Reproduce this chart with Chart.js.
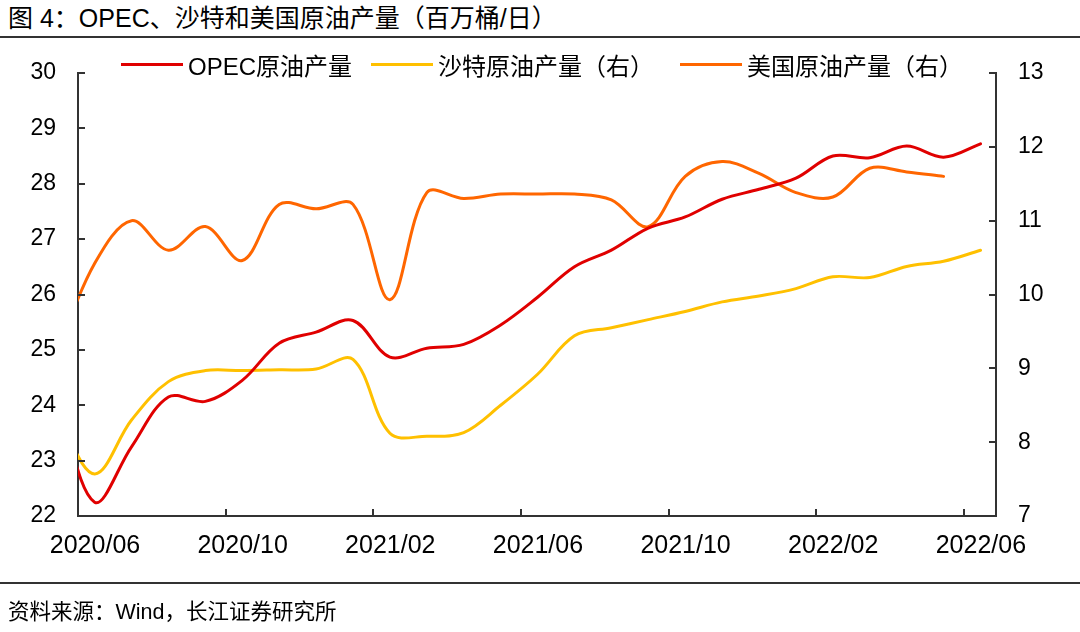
<!DOCTYPE html>
<html><head><meta charset="utf-8">
<script src="https://cdn.jsdelivr.net/npm/chart.js@4.4.1/dist/chart.umd.min.js"></script>
<style>
body{margin:0;background:#fff;}
#wrap{position:relative;width:1080px;height:632px;overflow:hidden;background:#fff;font-family:"Liberation Sans",Arial,"Noto Sans CJK SC",sans-serif;color:#000;}
#title{position:absolute;left:8px;top:3px;font-size:25px;line-height:30px;white-space:nowrap;}
.rule{position:absolute;left:0;width:1080px;height:2px;background:#333;}
#c{position:absolute;left:0;top:0;}
.lg{position:absolute;top:49px;height:30px;display:flex;align-items:center;font-size:24px;white-space:nowrap;}
.lg .s{display:inline-block;width:62px;height:3px;margin-right:5px;}
#source{position:absolute;left:8px;top:597px;font-size:21.5px;line-height:30px;white-space:nowrap;}
</style></head>
<body><div id="wrap">
<div id="title">图 4：OPEC、沙特和美国原油产量（百万桶/日）</div>
<div class="rule" style="top:36px"></div>
<canvas id="c" width="1080" height="632"></canvas>
<div class="rule" style="top:582px"></div>
<div id="source">资料来源：Wind，长江证券研究所</div>
</div>
<script>
// Monthly observations (2020/05 is partly hidden left of the axis start)
const months = ['2020/05','2020/06','2020/07','2020/08','2020/09','2020/10','2020/11','2020/12',
  '2021/01','2021/02','2021/03','2021/04','2021/05','2021/06','2021/07','2021/08','2021/09','2021/10','2021/11','2021/12',
  '2022/01','2022/02','2022/03','2022/04','2022/05','2022/06'];
const opecOutput  = [24.1,22.25,23.25,24.15,24.07,24.45,25.12,25.32,25.53,24.87,25.03,25.1,25.45,25.95,26.5,26.8,27.2,27.4,27.72,27.9,28.1,28.5,28.47,28.68,28.48,28.72];
const saudiOutput = [8.35,7.57,8.3,8.82,8.97,8.97,8.98,8.99,9.12,8.12,8.08,8.13,8.5,8.92,9.44,9.55,9.66,9.77,9.9,9.98,10.08,10.24,10.23,10.38,10.45,10.6];
const usOutput    = [9.25,10.42,11.0,10.6,10.92,10.46,11.22,11.16,11.22,9.93,11.38,11.3,11.36,11.36,11.36,11.28,10.92,11.6,11.8,11.64,11.38,11.32,11.71,11.66,11.6,null];
const tickLabels  = ['2020/06','2020/10','2021/02','2021/06','2021/10','2022/02','2022/06'];
const seriesNames = ['OPEC原油产量','沙特原油产量（右）','美国原油产量（右）'];
const seriesColors = ['#E00000','#FFC000','#FF6600'];

// observation date within month (fraction of month)
const OBS_DAY = 0.45;
function monthNum(s){const [y,m]=s.split('/').map(Number);return (y-2020)*12+(m-6);}
function pts(arr){return arr.map((v,i)=>({x:monthNum(months[i])+OBS_DAY,y:v}));}
const tickValues = tickLabels.map(monthNum);

const AXIS = '#333';
const inwardTicks = {
  id:'inwardTicks',
  afterDatasetsDraw(chart){
    const {ctx, chartArea:a, scales} = chart;
    const L = 7;
    ctx.save(); ctx.strokeStyle = AXIS; ctx.lineWidth = 2;
    const seg=(x1,y1,x2,y2)=>{ctx.beginPath();ctx.moveTo(x1,y1);ctx.lineTo(x2,y2);ctx.stroke();};
    scales.x.ticks.forEach(t=>{const p=Math.round(scales.x.getPixelForValue(t.value));seg(p,a.bottom,p,a.bottom-L);});
    scales.y.ticks.forEach(t=>{const p=Math.round(scales.y.getPixelForValue(t.value));seg(a.left,p,a.left+L,p);});
    scales.y1.ticks.forEach(t=>{const p=Math.round(scales.y1.getPixelForValue(t.value));seg(a.right,p,a.right-L,p);});
    ctx.restore();
  }
};

const tickFont = {family:'"Liberation Sans", Arial, sans-serif', size:23};
const xTickFont = {family:'"Liberation Sans", Arial, sans-serif', size:25};
const chart = new Chart(document.getElementById('c'), {
  type:'line',
  data:{datasets:[
    {label:seriesNames[0], data:pts(opecOutput), borderColor:seriesColors[0], backgroundColor:seriesColors[0], yAxisID:'y', clip:0},
    {label:seriesNames[1], data:pts(saudiOutput), borderColor:seriesColors[1], backgroundColor:seriesColors[1], yAxisID:'y1', clip:0},
    {label:seriesNames[2], data:pts(usOutput), borderColor:seriesColors[2], backgroundColor:seriesColors[2], yAxisID:'y1', clip:0}
  ]},
  options:{
    responsive:false, animation:false, devicePixelRatio:1,
    layout:{padding:{top:73,bottom:76,left:0,right:0}},
    elements:{line:{borderWidth:3,tension:0.35,fill:false,borderCapStyle:'round',borderJoinStyle:'round'},point:{radius:0,hoverRadius:0}},
    plugins:{legend:{display:false},tooltip:{enabled:false},title:{display:false}},
    scales:{
      x:{type:'linear',min:0,max:24.87,
        afterBuildTicks:s=>{s.ticks=tickValues.map(v=>({value:v}));},
        afterFit:s=>{s.height=40;},
        ticks:{callback:(v,i)=>tickLabels[i],font:xTickFont,color:'#000',padding:15,labelOffset:17,maxRotation:0,autoSkip:false},
        grid:{display:false,drawTicks:false},
        border:{display:true,color:AXIS,width:2}},
      y:{position:'left',min:22,max:30,
        afterFit:s=>{s.width=78;},
        ticks:{stepSize:1,font:tickFont,color:'#000',padding:22},
        grid:{display:false,drawTicks:false},
        border:{display:true,color:AXIS,width:2}},
      y1:{position:'right',min:7,max:13,
        afterFit:s=>{s.width=84;},
        ticks:{stepSize:1,font:tickFont,color:'#000',padding:22},
        grid:{display:false,drawTicks:false},
        border:{display:true,color:AXIS,width:2}}
    }
  },
  plugins:[inwardTicks]
});

// HTML legend generated from the chart's datasets
const legendLeft=[121,371,680];
chart.data.datasets.forEach((ds,i)=>{
  const d=document.createElement('div');d.className='lg';d.style.left=legendLeft[i]+'px';
  const s=document.createElement('span');s.className='s';s.style.background=ds.borderColor;
  const t=document.createElement('span');t.textContent=ds.label;
  d.appendChild(s);d.appendChild(t);document.getElementById('wrap').appendChild(d);
});
</script>
</body></html>
